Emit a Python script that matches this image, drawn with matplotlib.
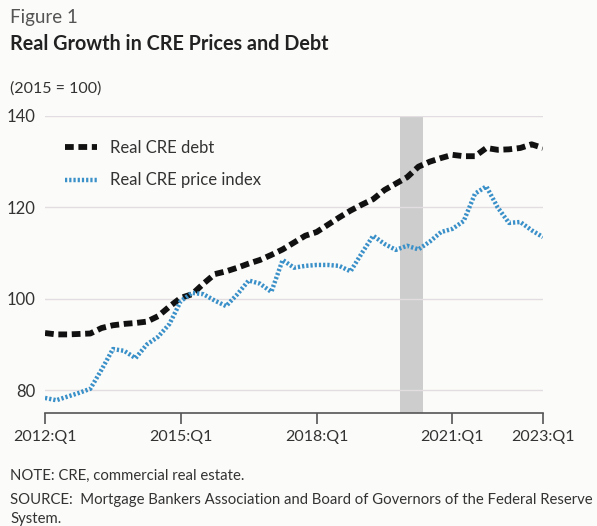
import matplotlib
matplotlib.use('Agg')
import matplotlib.pyplot as plt

# -- Data: quarterly index values (2015 = 100), 2012:Q1 .. 2023:Q1 --
quarters = [f'{y}:Q{q}' for y in range(2012, 2024) for q in range(1, 5)][:45]

cre_debt = [92.5, 92.2, 92.2, 92.3, 92.4, 93.6, 94.2, 94.5, 94.7, 95.0,
            96.2, 98.3, 100.2, 101.0, 103.3, 105.4, 106.0, 106.8, 107.7, 108.5,
            109.6, 110.8, 112.3, 113.8, 114.6, 116.2, 117.8, 119.3, 120.6, 121.8,
            123.8, 125.2, 126.6, 128.9, 130.0, 130.8, 131.5, 131.2, 131.2, 133.0,
            132.6, 132.7, 133.0, 133.8, 133.0]

cre_price = [78.3, 77.8, 78.6, 79.4, 80.3, 84.5, 89.0, 88.6, 87.0, 90.0,
             91.7, 94.5, 99.5, 101.3, 101.0, 99.6, 98.4, 101.0, 104.0, 103.3,
             101.5, 108.5, 106.8, 107.2, 107.4, 107.4, 107.2, 106.0, 110.0, 113.8,
             112.0, 110.7, 111.6, 110.8, 112.5, 114.6, 115.3, 117.0, 123.0, 124.6,
             120.0, 116.6, 116.8, 115.0, 113.5]

tick_labels = ['2012:Q1', '2015:Q1', '2018:Q1', '2021:Q1', '2023:Q1']
y_ticks = [80, 100, 120, 140]
recession = ('2020:Q1', '2020:Q2')

# -- Styling --
BG = '#fbfbf9'
TEXT = '#333333'
GRID = '#e2dde0'
DEBT_COLOR = '#111111'
PRICE_COLOR = '#3a90c8'
SHADE = '#cdcdcd'

plt.rcParams['font.family'] = ['Lato', 'DejaVu Sans']

fig = plt.figure(figsize=(5.97, 5.26), dpi=100)
fig.patch.set_facecolor(BG)
ax = fig.add_axes([0.0754, 0.2148, 0.834, 0.5647])
ax.set_facecolor(BG)

x = list(range(len(quarters)))

r0 = quarters.index(recession[0]) - 0.6
r1 = quarters.index(recession[1]) + 0.4
ax.axvspan(r0, r1, color=SHADE, lw=0, zorder=1)

ax.plot(x, cre_debt, color=DEBT_COLOR, lw=4.2, linestyle=(0, (1.5, 0.8)),
        dash_capstyle='butt', label='Real CRE debt', zorder=3)
ax.plot(x, cre_price, color=PRICE_COLOR, lw=3.2, linestyle=(0, (0.5, 0.45)),
        dash_capstyle='butt', label='Real CRE price index', zorder=3)

ax.set_xlim(0, len(quarters) - 1)
ax.set_ylim(75, 140)
ax.set_yticks(y_ticks)
ax.set_xticks([quarters.index(t) for t in tick_labels])
ax.set_xticklabels(tick_labels)

ax.grid(axis='y', color=GRID, lw=1.0, zorder=0)
ax.tick_params(axis='y', length=0, pad=7, labelsize=12, labelcolor=TEXT)
ax.tick_params(axis='x', length=8, width=1.2, color='#555555', pad=4,
               labelsize=11.5, labelcolor=TEXT)

for side in ['top', 'right', 'left']:
    ax.spines[side].set_visible(False)
ax.spines['bottom'].set_color('#555555')
ax.spines['bottom'].set_linewidth(1.2)

leg = ax.legend(loc='upper left', bbox_to_anchor=(0.04, 0.92), frameon=False,
                fontsize=12, borderpad=0, borderaxespad=0, handlelength=1.9,
                labelspacing=1.0, handletextpad=0.8)
for t in leg.get_texts():
    t.set_color(TEXT)

# -- Header and footer text --
fig.text(0.017, 1 - 18 / 526, 'Figure 1', fontsize=13.5, color='#555555', va='center')
fig.text(0.017, 1 - 44 / 526, 'Real Growth in CRE Prices and Debt', fontsize=14.2,
         fontweight='bold', color='#222222', va='center')
fig.text(0.017, 1 - 89 / 526, '(2015 = 100)', fontsize=11.5, color=TEXT, va='center')
fig.text(0.017, 1 - 476 / 526, 'NOTE: CRE, commercial real estate.', fontsize=10.7,
         color=TEXT, va='center')
fig.text(0.017, 1 - 500 / 526,
         'SOURCE:  Mortgage Bankers Association and Board of Governors of the Federal Reserve',
         fontsize=10.7, color=TEXT, va='center')
fig.text(0.017, 1 - 519 / 526, 'System.', fontsize=10.7, color=TEXT, va='center')

fig.savefig('out.png', dpi=100, facecolor=BG)
plt.close()
